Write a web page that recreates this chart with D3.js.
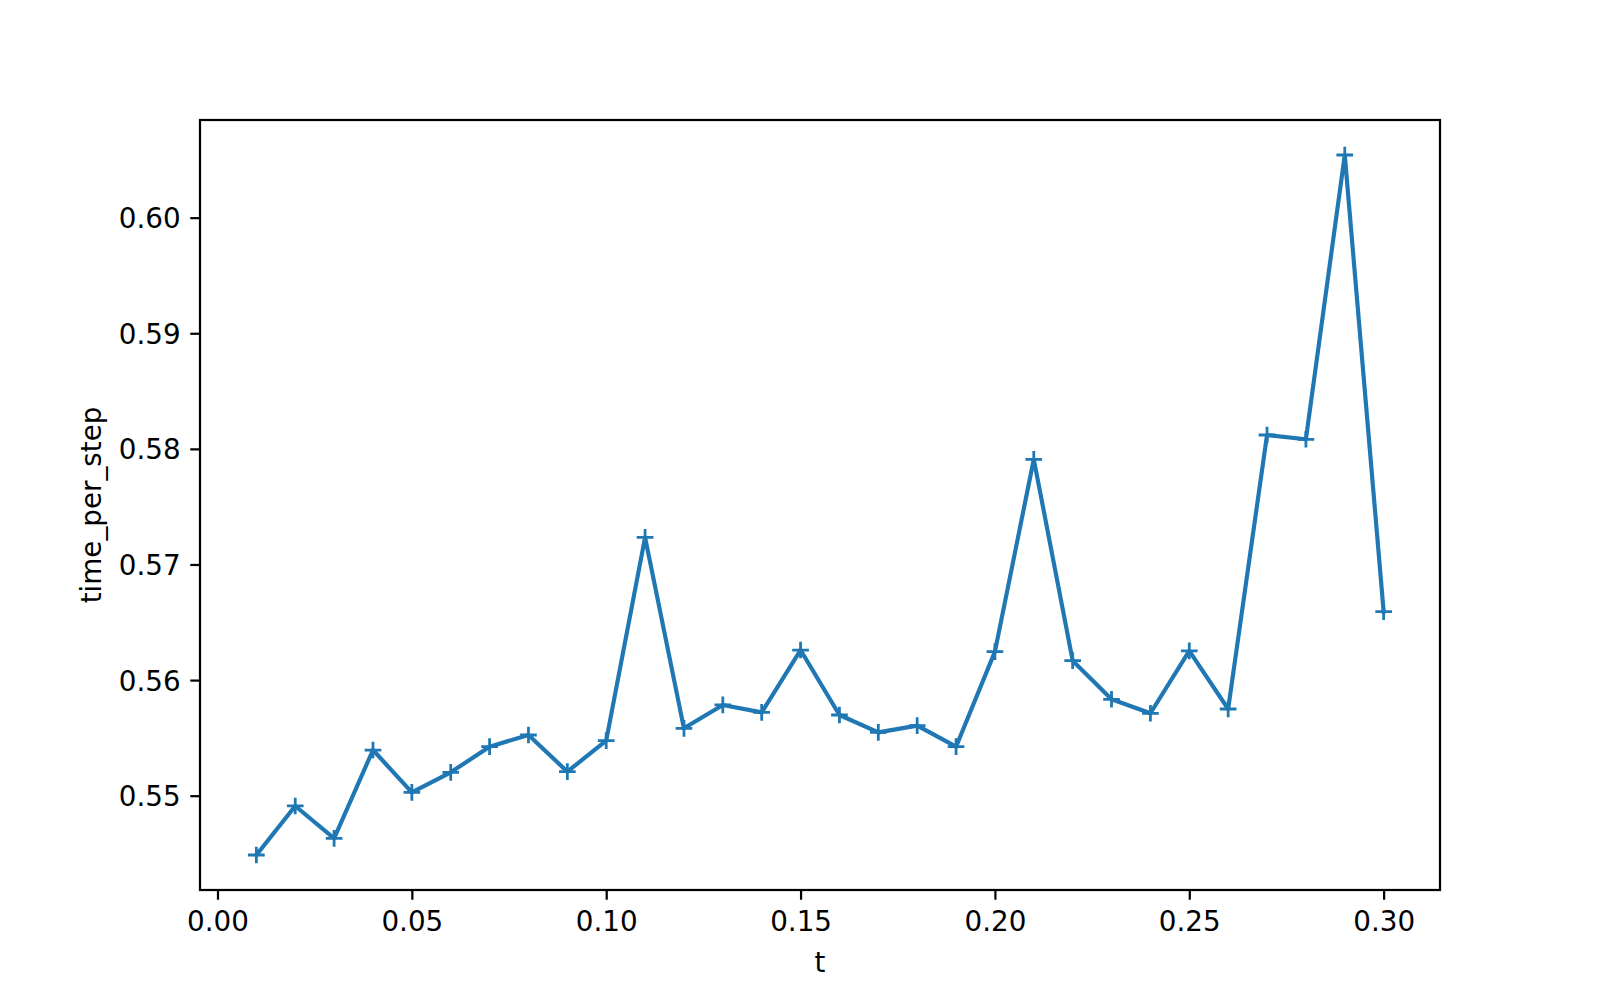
<!DOCTYPE html>
<html>
<head>
<meta charset="utf-8">
<script src="https://cdn.jsdelivr.net/npm/d3@7"></script>
<style>
  html, body { margin: 0; padding: 0; background: #fff; }
  svg { display: block; }
  text { font-family: "DejaVu Sans", sans-serif; fill: #000; }
</style>
</head>
<body>
<script>
// ---- data ----
const tValues = [0.01,0.02,0.03,0.04,0.05,0.06,0.07,0.08,0.09,0.10,
                 0.11,0.12,0.13,0.14,0.15,0.16,0.17,0.18,0.19,0.20,
                 0.21,0.22,0.23,0.24,0.25,0.26,0.27,0.28,0.29,0.30];
const timePerStep = [0.54487,0.54911,0.54631,0.55395,0.55029,0.55202,0.55424,0.55525,0.55208,0.55476,
                     0.57235,0.55583,0.55785,0.55721,0.56260,0.55698,0.55548,0.55606,0.55424,0.56246,
                     0.57910,0.56168,0.55834,0.55713,0.56252,0.55750,0.58120,0.58083,0.60542,0.56592];
const xTicks = [0.00,0.05,0.10,0.15,0.20,0.25,0.30];
const yTicks = [0.55,0.56,0.57,0.58,0.59,0.60];
const xLabel = "t";
const yLabel = "time_per_step";

// ---- layout ----
const W = 1600, H = 1000;
const m = {left: 200, right: 1440, top: 120, bottom: 890};
const pt = 200/72; // dpi 200
const color = "#1f77b4";
const fs = 10*pt;

const svg = d3.select("body").append("svg").attr("width", W).attr("height", H);

const data = tValues.map((t,i)=>({t, v: timePerStep[i]}));
const xExt = d3.extent(tValues), yExt = d3.extent(timePerStep);
const xPad = (xExt[1]-xExt[0])*0.05, yPad = (yExt[1]-yExt[0])*0.05;

const x = d3.scaleLinear().domain([xExt[0]-xPad, xExt[1]+xPad]).range([m.left, m.right]);
const y = d3.scaleLinear().domain([yExt[0]-yPad, yExt[1]+yPad]).range([m.bottom, m.top]);

// line
svg.append("path")
  .datum(data)
  .attr("fill","none")
  .attr("stroke", color)
  .attr("stroke-width", 1.5*pt)
  .attr("stroke-linejoin","round")
  .attr("stroke-linecap","square")
  .attr("d", d3.line().x(d=>x(d.t)).y(d=>y(d.v)));

// markers '+'
const ms = 6*pt/2;
svg.append("g").selectAll("path").data(data).join("path")
  .attr("fill","none")
  .attr("stroke", color)
  .attr("stroke-width", 1*pt)
  .attr("d", d => {
    const cx = x(d.t), cy = y(d.v);
    return `M${cx-ms},${cy}H${cx+ms}M${cx},${cy-ms}V${cy+ms}`;
  });

// axes
const tickLen = 3.5*pt, tickPad = 3.5*pt;
const xAxis = d3.axisBottom(x).tickValues(xTicks).tickFormat(d3.format(".2f"))
  .tickSizeInner(tickLen).tickSizeOuter(0).tickPadding(tickPad);
const yAxis = d3.axisLeft(y).tickValues(yTicks).tickFormat(d3.format(".2f"))
  .tickSizeInner(tickLen).tickSizeOuter(0).tickPadding(tickPad);

const gx = svg.append("g").attr("transform",`translate(0,${m.bottom})`).call(xAxis);
const gy = svg.append("g").attr("transform",`translate(${m.left},0)`).call(yAxis);
[gx, gy].forEach(g => {
  g.select(".domain").remove();
  g.selectAll(".tick line").attr("stroke","#000").attr("stroke-width",0.8*pt);
  g.selectAll(".tick text").attr("font-size", fs).attr("font-family","DejaVu Sans").attr("fill","#000");
});
gx.selectAll(".tick text").attr("dy", null).attr("y", null)
  .attr("dominant-baseline","alphabetic").attr("y", 930.7 - m.bottom);
gy.selectAll(".tick text").attr("dy","0.36em");

// spines
svg.append("rect")
  .attr("x", m.left).attr("y", m.top)
  .attr("width", m.right-m.left).attr("height", m.bottom-m.top)
  .attr("fill","none").attr("stroke","#000").attr("stroke-width",0.8*pt);

// labels
svg.append("text").attr("x",(m.left+m.right)/2).attr("y",971.5)
  .attr("text-anchor","middle").attr("font-size",fs).text(xLabel);
svg.append("text")
  .attr("transform",`translate(100.5,${(m.top+m.bottom)/2}) rotate(-90)`)
  .attr("text-anchor","middle").attr("font-size",fs).text(yLabel);
</script>
</body>
</html>
